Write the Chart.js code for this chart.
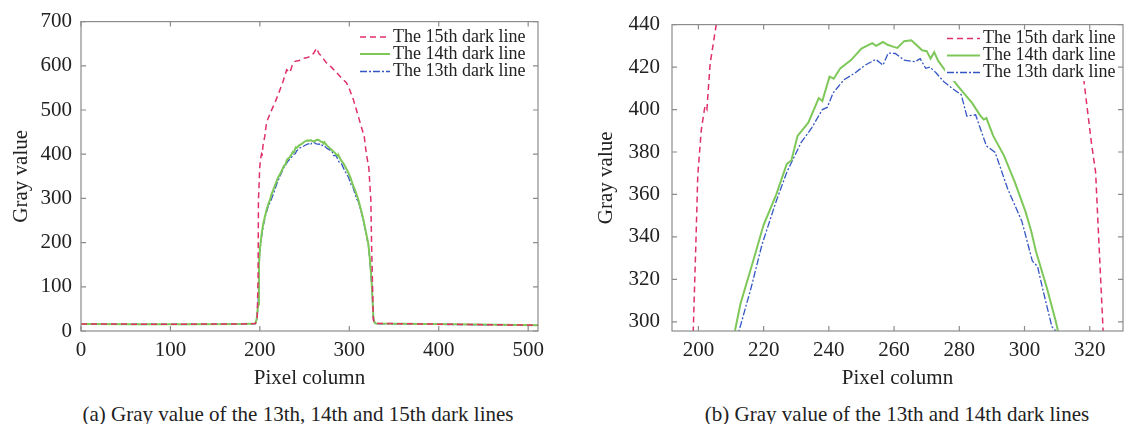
<!DOCTYPE html>
<html>
<head>
<meta charset="utf-8">
<script src="https://cdn.jsdelivr.net/npm/chart.js@4/dist/chart.umd.min.js"></script>
<style>
  body { margin: 0; background: #fff; width: 1124px; height: 424px; position: relative; overflow: hidden; font-family: "Liberation Serif", serif; }
  canvas { position: absolute; top: 0; }
  #chartA { left: 0; }
  #chartB { left: 560px; }
  .caption { position: absolute; top: 402px; font-size: 21px; line-height: 24px; color: #222; white-space: nowrap; transform: translateX(-50%); }
</style>
</head>
<body>
<canvas id="chartA" width="560" height="392"></canvas>
<canvas id="chartB" width="564" height="392"></canvas>
<div class="caption" style="left:298px">(a) Gray value of the 13th, 14th and 15th dark lines</div>
<div class="caption" style="left:897px">(b) Gray value of the 13th and 14th dark lines</div>
<script>
const seriesNames = ["The 15th dark line", "The 14th dark line", "The 13th dark line"];

// 15th dark line (red dashed)
const cols15 = [0, 60, 120, 180, 195, 197, 198, 198.4, 199.3, 199.8, 200.9, 202, 202.6, 203.6, 205.5, 207.5, 212, 217, 222.5, 226, 230, 233.7, 236, 239.3, 244, 248.6, 252, 256, 260, 263.5, 266, 269.1, 274.7, 280, 286, 291, 297, 300, 304.5, 308, 312, 316.7, 318.3, 320.5, 321.8, 322.7, 324.1, 325, 326.9, 328, 330, 360, 420, 470, 511];
const gray15 = [16, 15.5, 15.5, 16, 17, 30, 120, 295, 341, 369, 390.7, 401.5, 400, 421.7, 440.3, 472, 495, 517, 546, 565, 591, 585, 600, 610, 612, 617, 618, 621, 628, 640, 628, 621, 606, 597, 584, 573, 561, 548, 524, 500, 472, 440, 412.4, 384.5, 370.5, 341, 296, 188, 25, 18, 17, 16.5, 15, 14, 13];

// 14th dark line (green solid)
const cols14 = [0, 60, 120, 180, 195, 196.5, 198, 199, 200, 202, 204, 206, 208, 210, 211.3, 212.9, 216.2, 220, 223.8, 227.1, 228.5, 230.4, 233.7, 236.9, 238, 240.2, 241.5, 243.5, 246.8, 250, 253.3, 254.5, 256.6, 258, 259.9, 261, 263.1, 265.3, 268.6, 270, 271.2, 272.3, 273.5, 275.2, 277, 280.1, 283.9, 286.5, 287.5, 288.3, 290.4, 293.7, 297, 300.3, 302, 303.5, 306.8, 309.5, 310.3, 313, 316, 318, 320, 321.3, 323.2, 325, 326.9, 328, 330, 360, 420, 470, 511];
const gray14 = [16, 15.5, 15.5, 16, 17, 28, 60, 150, 185, 220, 245, 262, 278, 290, 296.5, 308.5, 325.6, 345.7, 359.7, 374.4, 376, 387.6, 393.8, 405.4, 404, 415.5, 414.5, 419.4, 423.3, 428.7, 431.3, 430, 431.8, 430.5, 429.5, 429, 432.2, 432.6, 427.9, 427.5, 424, 427, 423, 419.4, 416, 410.1, 403.1, 397, 395.3, 396, 387.6, 378.3, 365.9, 351.9, 343, 333.3, 316.3, 300.8, 295.5, 275, 250, 230, 210, 197, 159, 110, 32, 20, 17, 16.5, 15, 14, 13];

// 13th dark line (blue dash-dot)
const cols13 = [0, 60, 120, 180, 195, 196.5, 198, 199, 200, 202, 204, 206, 208, 210, 212.4, 216.2, 219.5, 223.8, 227.1, 231.5, 234.8, 238, 239.5, 241.3, 244.6, 247.9, 251.1, 254.4, 256.6, 258.2, 260.4, 263.1, 266.4, 268, 269.7, 271, 273, 275.2, 278.4, 280.6, 282.3, 285, 288.3, 291, 294.8, 299.2, 302.4, 304, 305.7, 308.4, 309.7, 313, 316, 318, 320, 321.3, 323.2, 325, 326.9, 328, 330, 360, 420, 470, 511];
const gray13 = [15.5, 15, 15, 15.5, 16.5, 26, 55, 145, 180, 215, 240, 258, 273, 285, 295.5, 316.3, 336.4, 356.6, 370.5, 384.5, 391.5, 400, 401, 407.8, 414, 417.1, 420.9, 423.6, 420.9, 426.6, 426.4, 423.3, 422.5, 424, 419.4, 420, 417.1, 413.2, 409.3, 407, 396.9, 397.5, 382.9, 379.8, 362.8, 347.3, 328.7, 326, 314.7, 297.7, 295.5, 272, 247, 227, 207, 194, 156, 105, 30, 19, 16.5, 16, 14.5, 13.5, 12.5];

const xTicksA = [0, 100, 200, 300, 400, 500];
const yTicksA = [0, 100, 200, 300, 400, 500, 600, 700];
const xTicksB = [200, 220, 240, 260, 280, 300, 320];
const yTicksB = [300, 320, 340, 360, 380, 400, 420, 440];

const lineStyles = [
  { color: "#e0306a", width: 1.5, dash: [6, 4] },
  { color: "#7ec85a", width: 2, dash: [] },
  { color: "#3456c4", width: 1.3, dash: [7, 2, 2, 2] },
];

const textColor = "#222";
Chart.defaults.font.family = "'Liberation Serif', 'Times New Roman', serif";
Chart.defaults.font.size = 21;
Chart.defaults.color = textColor;

const toPoints = (cols, vals) => cols.map((c, i) => ({ x: c, y: vals[i] }));

const buildDatasets = () =>
  [[cols15, gray15], [cols14, gray14], [cols13, gray13]].map(([c, v], i) => ({
    label: seriesNames[i],
    data: toPoints(c, v),
    borderColor: lineStyles[i].color,
    borderWidth: lineStyles[i].width,
    borderDash: lineStyles[i].dash,
    pointRadius: 0,
    tension: 0,
    fill: false,
  }));

// box round the plot with inward ticks on all four sides
const framePlugin = {
  id: "frame",
  afterDraw(chart) {
    const { ctx, chartArea: a, scales } = chart;
    const len = 5;
    ctx.save();
    ctx.strokeStyle = "#8c8c8c";
    ctx.lineWidth = 1.2;
    ctx.setLineDash([]);
    ctx.strokeRect(a.left, a.top, a.right - a.left, a.bottom - a.top);
    ctx.beginPath();
    scales.x.ticks.forEach((t) => {
      const px = scales.x.getPixelForValue(t.value);
      ctx.moveTo(px, a.bottom);
      ctx.lineTo(px, a.bottom - len);
      ctx.moveTo(px, a.top);
      ctx.lineTo(px, a.top + len);
    });
    scales.y.ticks.forEach((t) => {
      const py = scales.y.getPixelForValue(t.value);
      ctx.moveTo(a.left, py);
      ctx.lineTo(a.left + len, py);
      ctx.moveTo(a.right, py);
      ctx.lineTo(a.right - len, py);
    });
    ctx.stroke();
    ctx.restore();
  },
};

// legend with line samples and a white background, no border
const legendPlugin = {
  id: "lineLegend",
  afterDatasetsDraw(chart, args, opts) {
    const ctx = chart.ctx;
    ctx.save();
    ctx.fillStyle = "#fff";
    ctx.fillRect(opts.box[0], opts.box[1], opts.box[2], opts.box[3]);
    ctx.font = "18px 'Liberation Serif', serif";
    ctx.textBaseline = "middle";
    chart.data.datasets.forEach((ds, i) => {
      const y = opts.rows[i];
      ctx.strokeStyle = ds.borderColor;
      ctx.lineWidth = ds.borderWidth;
      ctx.setLineDash(ds.borderDash);
      ctx.beginPath();
      ctx.moveTo(opts.lineX0, y);
      ctx.lineTo(opts.lineX1, y);
      ctx.stroke();
      ctx.fillStyle = textColor;
      ctx.fillText(ds.label, opts.textX, y);
    });
    ctx.restore();
  },
};

const makeOptions = (p) => ({
  responsive: false,
  animation: false,
  layout: { padding: { top: p.padTop, right: p.padRight, left: 0, bottom: 0 } },
  plugins: {
    legend: { display: false },
    tooltip: { enabled: false },
    lineLegend: p.legend,
  },
  scales: {
    x: {
      type: "linear",
      min: p.xMin,
      max: p.xMax,
      afterBuildTicks: (s) => { s.ticks = p.xTicks.map((v) => ({ value: v })); },
      afterFit: (s) => { s.height = 61; },
      grid: { display: false, drawTicks: false },
      border: { display: false },
      ticks: { padding: 7, maxRotation: 0, autoSkip: false },
      title: { display: true, text: "Pixel column", padding: { top: 0, bottom: 1.4 } },
    },
    y: {
      type: "linear",
      min: p.yMin,
      max: p.yMax,
      afterBuildTicks: (s) => { s.ticks = p.yTicks.map((v) => ({ value: v })); },
      afterFit: (s) => { s.width = p.yAxisWidth; },
      grid: { display: false, drawTicks: false },
      border: { display: false },
      ticks: { padding: p.yTickPad, autoSkip: false },
      title: { display: true, text: "Gray value", padding: { top: p.yTitlePad, bottom: 0 } },
    },
  },
});

new Chart(document.getElementById("chartA"), {
  type: "line",
  data: { datasets: buildDatasets() },
  options: makeOptions({
    xMin: 0, xMax: 511, yMin: 0, yMax: 700,
    xTicks: xTicksA, yTicks: yTicksA,
    padTop: 18, padRight: 22, yAxisWidth: 81, yTickPad: 9, yTitlePad: 8.4,
    legend: { box: [356, 27, 180, 54], lineX0: 360, lineX1: 390, textX: 393, rows: [37, 54, 71.5] },
  }),
  plugins: [legendPlugin, framePlugin],
});

new Chart(document.getElementById("chartB"), {
  type: "line",
  data: { datasets: buildDatasets() },
  options: makeOptions({
    xMin: 191.9, xMax: 330.2, yMin: 295.7, yMax: 440,
    xTicks: xTicksB, yTicks: yTicksB,
    padTop: 19, padRight: 1, yAxisWidth: 112, yTickPad: 12, yTitlePad: 33.4,
    legend: { box: [385, 28, 178, 53], lineX0: 387, lineX1: 420, textX: 423, rows: [38.5, 55.5, 72.5] },
  }),
  plugins: [legendPlugin, framePlugin],
});
</script>
</body>
</html>
